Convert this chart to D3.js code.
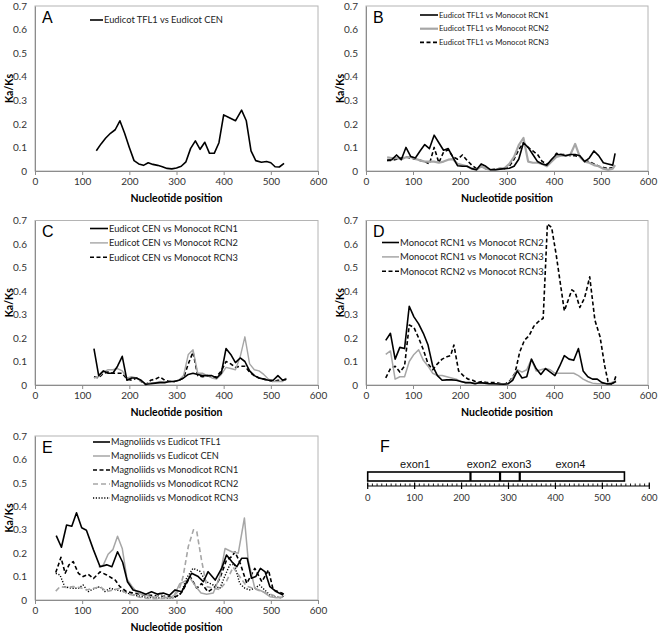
<!DOCTYPE html>
<html><head><meta charset="utf-8">
<script src="https://cdnjs.cloudflare.com/ajax/libs/d3/7.8.5/d3.min.js"></script>
<style>body{margin:0;background:#fff}svg{display:block}</style>
</head><body><svg id="c" width="660" height="637"></svg>
<script>
// ---------- DATA ----------
const xTicks = [0,100,200,300,400,500,600];
const yTicks = [0,0.1,0.2,0.3,0.4,0.5,0.6,0.7];

// Panel A
const A_x = [130,140,150,160,170,180,190,200,210,220,230,240,250,260,270,280,290,300,310,320,330,340,350,360,370,380,390,400,410,425,438,448,458,468,480,491,500,509,518,528];
const A_tfl1_cen = [0.086,0.115,0.14,0.16,0.175,0.213,0.16,0.10,0.044,0.03,0.024,0.035,0.028,0.024,0.018,0.011,0.009,0.013,0.02,0.039,0.096,0.128,0.092,0.122,0.075,0.075,0.12,0.238,0.228,0.213,0.258,0.213,0.085,0.044,0.037,0.04,0.035,0.018,0.017,0.032];

// Panel B
const B_x = [45,55,65,75,85,95,105,115,125,135,145,155,165,175,185,195,205,215,225,235,245,255,265,275,285,295,305,315,325,335,345,355,365,375,385,395,405,415,425,435,445,455,465,475,485,495,505,515,525,530];
const B_tfl1_rcn1 = [0.045,0.048,0.068,0.048,0.1,0.062,0.055,0.085,0.112,0.095,0.152,0.12,0.088,0.095,0.058,0.022,0.02,0.02,0.01,0.005,0.03,0.02,0.005,0.005,0.008,0.01,0.012,0.02,0.05,0.12,0.1,0.07,0.04,0.03,0.025,0.05,0.07,0.07,0.065,0.07,0.07,0.065,0.04,0.055,0.085,0.065,0.035,0.03,0.025,0.075];
const B_tfl1_rcn2 = [0.058,0.055,0.055,0.05,0.058,0.06,0.052,0.045,0.04,0.04,0.04,0.035,0.04,0.048,0.05,0.03,0.025,0.02,0.01,0.005,0.02,0.01,0.005,0.005,0.01,0.012,0.03,0.06,0.11,0.14,0.04,0.035,0.035,0.03,0.02,0.04,0.06,0.065,0.065,0.07,0.115,0.06,0.04,0.035,0.025,0.02,0.01,0.005,0.01,0.025];
const B_tfl1_rcn3 = [0.045,0.045,0.05,0.055,0.06,0.055,0.05,0.045,0.04,0.03,0.1,0.035,0.08,0.09,0.06,0.05,0.068,0.045,0.025,0.01,0.02,0.01,0.005,0.008,0.01,0.01,0.02,0.05,0.09,0.12,0.1,0.085,0.07,0.04,0.03,0.04,0.075,0.07,0.07,0.065,0.065,0.06,0.045,0.04,0.03,0.02,0.015,0.01,0.015,0.02];

// Panel C
const C_x = [125,135,145,155,165,175,185,195,205,215,225,235,245,255,265,275,285,295,305,315,325,335,345,355,365,375,385,395,405,415,425,435,445,455,465,475,485,495,505,515,525,533];
const C_cen_rcn1 = [0.155,0.04,0.06,0.05,0.05,0.08,0.122,0.02,0.03,0.03,0.02,0.003,0.005,0.008,0.01,0.01,0.015,0.015,0.02,0.03,0.045,0.05,0.045,0.04,0.04,0.04,0.03,0.05,0.155,0.13,0.095,0.115,0.1,0.06,0.04,0.03,0.025,0.02,0.02,0.04,0.02,0.025];
const C_cen_rcn2 = [0.03,0.035,0.055,0.065,0.065,0.07,0.06,0.03,0.035,0.03,0.015,0.005,0.01,0.01,0.015,0.012,0.015,0.015,0.02,0.04,0.13,0.15,0.05,0.05,0.04,0.03,0.025,0.045,0.075,0.07,0.065,0.12,0.205,0.09,0.065,0.06,0.045,0.025,0.015,0.015,0.015,0.03];
const C_cen_rcn3 = [0.035,0.03,0.05,0.055,0.05,0.05,0.05,0.025,0.02,0.03,0.015,0.002,0.02,0.025,0.035,0.02,0.015,0.015,0.02,0.03,0.09,0.14,0.04,0.035,0.04,0.035,0.035,0.06,0.1,0.09,0.075,0.08,0.08,0.055,0.04,0.03,0.025,0.02,0.015,0.02,0.02,0.025];

// Panel D
const D_x = [42,52,62,72,82,92,102,112,122,132,142,152,162,172,182,192,202,212,222,232,242,252,262,272,282,292,302,312,322,332,342,352,362,372,382,392,402,412,422,432,442,452,462,472,482,492,502,512,522,532];
const D_rcn1_rcn2 = [0.19,0.22,0.11,0.16,0.155,0.335,0.29,0.26,0.22,0.17,0.08,0.04,0.02,0.022,0.022,0.02,0.015,0.01,0.01,0.005,0.01,0.008,0.006,0.005,0.004,0.003,0.005,0.02,0.06,0.03,0.035,0.11,0.07,0.045,0.07,0.055,0.04,0.08,0.125,0.11,0.105,0.155,0.06,0.035,0.025,0.025,0.01,0.005,0.005,0.015];
const D_rcn1_rcn3 = [0.13,0.145,0.025,0.035,0.035,0.1,0.13,0.15,0.105,0.08,0.05,0.04,0.04,0.035,0.03,0.025,0.015,0.01,0.01,0.009,0.008,0.007,0.005,0.005,0.005,0.005,0.005,0.03,0.065,0.055,0.065,0.11,0.06,0.065,0.07,0.065,0.05,0.05,0.05,0.05,0.05,0.04,0.025,0.015,0.008,0.005,0.005,0.005,0.01,0.02];
const D2_x = [42,52,62,72,82,92,102,112,122,132,142,152,162,172,180,187,197,207,217,227,237,247,257,267,277,287,297,307,317,327,337,347,357,367,377,386,395,405,422,438,445,455,465,476,487,498,508,515,522,527,532];
const D_rcn2_rcn3 = [0.03,0.07,0.08,0.055,0.08,0.255,0.245,0.2,0.15,0.09,0.065,0.09,0.11,0.12,0.125,0.17,0.06,0.04,0.025,0.02,0.01,0.015,0.01,0.01,0.01,0.005,0.005,0.02,0.05,0.14,0.19,0.21,0.25,0.27,0.284,0.685,0.67,0.55,0.315,0.405,0.395,0.33,0.37,0.46,0.276,0.205,0.08,0.014,0.005,0.01,0.04];

// Panel E
const E_x = [45,56,67,78,88,99,109,124,138,152,163,175,186,196,208,222,235,247,260,272,285,297,311,322,332,346,357,367,382,396,406,417,428,438,450,459,468,478,488,498,512,526];
const E_mag_tfl1 = [0.275,0.225,0.32,0.315,0.372,0.308,0.298,0.214,0.142,0.15,0.142,0.206,0.16,0.078,0.043,0.035,0.025,0.035,0.025,0.03,0.02,0.043,0.035,0.078,0.114,0.1,0.078,0.121,0.085,0.136,0.192,0.164,0.142,0.178,0.178,0.093,0.1,0.135,0.12,0.057,0.035,0.021];
const E2_x = [135,145,155,165,175,185,195,205,215,225,235,245,255,265,275,285,295,307,318,329,340,352,364,378,392,403,417,431,444,452,466,484,498,512,526];
const E_mag_cen = [0.14,0.15,0.195,0.215,0.272,0.22,0.09,0.06,0.035,0.025,0.02,0.015,0.012,0.03,0.012,0.01,0.02,0.07,0.08,0.093,0.06,0.03,0.025,0.03,0.1,0.22,0.206,0.2,0.35,0.17,0.05,0.035,0.014,0.01,0.012];
const E3_x = [44,55,64,72,81,92,102,113,124,138,152,170,180,194,208,222,236,250,264,278,292,306,314,329,343,353,367,382,392,406,417,424,435,449,466,481,495,505,523,532];
const E_mag_rcn1 = [0.117,0.182,0.114,0.15,0.164,0.114,0.1,0.11,0.092,0.12,0.107,0.085,0.057,0.036,0.03,0.025,0.02,0.02,0.018,0.015,0.012,0.02,0.043,0.1,0.05,0.07,0.035,0.057,0.093,0.17,0.185,0.205,0.157,0.071,0.135,0.078,0.128,0.043,0.03,0.02];
const E4_x = [44,53,67,81,95,109,124,138,152,166,180,194,208,222,236,250,264,278,292,305,314,325,336,343,353,364,378,392,406,420,434,448,462,476,490,505,520,530];
const E_mag_rcn2 = [0.038,0.057,0.054,0.057,0.053,0.043,0.05,0.057,0.036,0.043,0.05,0.028,0.02,0.012,0.008,0.006,0.006,0.008,0.01,0.04,0.1,0.228,0.3,0.292,0.171,0.057,0.05,0.045,0.08,0.14,0.1,0.06,0.05,0.04,0.03,0.02,0.01,0.015];
const E5_x = [44,53,63,77,92,102,113,127,138,148,159,173,187,198,212,226,240,254,268,282,296,310,321,335,349,363,378,392,402,413,423,434,445,455,466,476,487,498,508,520,530];
const E_mag_rcn3 = [0.114,0.107,0.057,0.05,0.05,0.064,0.036,0.05,0.057,0.036,0.05,0.043,0.036,0.028,0.02,0.015,0.01,0.01,0.008,0.008,0.01,0.03,0.092,0.135,0.124,0.078,0.064,0.05,0.1,0.15,0.152,0.071,0.05,0.043,0.05,0.064,0.043,0.021,0.014,0.01,0.02];

// Panel F (gene structure)
const F_exonBounds = [0,219,282,324,547];
const F_exonLabels = ["exon1","exon2","exon3","exon4"];
const F_labelPos = [101,243,317,432];
const F_ticks = [0,100,200,300,400,500,600];

// ---------- DRAWING ----------
const svg = d3.select("#c");
const FONT = "Lato, 'Open Sans', sans-serif";
const ARIAL = "'Liberation Sans', Arial, sans-serif";
const S = {
  black:  {stroke:"#000", w:1.6, dash:null},
  gray:   {stroke:"#a6a6a6", w:1.8, dash:null},
  dash:   {stroke:"#000", w:1.6, dash:"4,2.5"},
  gdash:  {stroke:"#a6a6a6", w:1.6, dash:"5,3"},
  dot:    {stroke:"#000", w:1.4, dash:"1.2,1.6"}
};

const panels = [
  {label:"A", box:[35,318,6,171], legend:{x:90,y:20,lw:13,step:14,tw:119},
   series:[{name:"Eudicot TFL1 vs Eudicot CEN", x:A_x, y:A_tfl1_cen, s:"black"}]},
  {label:"B", box:[366,648,6,171], legend:{x:420,y:15,lw:18,step:13.7,tw:110},
   series:[{name:"Eudicot TFL1 vs Monocot RCN1", x:B_x, y:B_tfl1_rcn1, s:"black"},
           {name:"Eudicot TFL1 vs Monocot RCN2", x:B_x, y:B_tfl1_rcn2, s:"gray", w:2.2},
           {name:"Eudicot TFL1 vs Monocot RCN3", x:B_x, y:B_tfl1_rcn3, s:"dash"}]},
  {label:"C", box:[35,318,220.5,385], legend:{x:90,y:228.5,lw:18,step:14.4,tw:129},
   series:[{name:"Eudicot CEN vs Monocot RCN1", x:C_x, y:C_cen_rcn1, s:"black"},
           {name:"Eudicot CEN vs Monocot RCN2", x:C_x, y:C_cen_rcn2, s:"gray", w:1.4},
           {name:"Eudicot CEN vs Monocot RCN3", x:C_x, y:C_cen_rcn3, s:"dash"}]},
  {label:"D", box:[366,648,220.5,385], legend:{x:382,y:242.5,lw:17,step:14.4,tw:144},
   series:[{name:"Monocot RCN1 vs Monocot RCN2", x:D_x, y:D_rcn1_rcn2, s:"black"},
           {name:"Monocot RCN1 vs Monocot RCN3", x:D_x, y:D_rcn1_rcn3, s:"gray", w:1.5},
           {name:"Monocot RCN2 vs Monocot RCN3", x:D2_x, y:D_rcn2_rcn3, s:"dash"}]},
  {label:"E", box:[35,318,436,600], legend:{x:93,y:442,lw:17,step:14,tw:110},
   series:[{name:"Magnoliids vs Eudicot TFL1", x:E_x, y:E_mag_tfl1, s:"black"},
           {name:"Magnoliids vs Eudicot CEN", x:E2_x, y:E_mag_cen, s:"gray", w:1.5},
           {name:"Magnoliids vs Monodicot RCN1", x:E3_x, y:E_mag_rcn1, s:"dash"},
           {name:"Magnoliids vs Monodicot RCN2", x:E4_x, y:E_mag_rcn2, s:"gdash"},
           {name:"Magnoliids vs Monodicot RCN3", x:E5_x, y:E_mag_rcn3, s:"dot"}]}
];

panels.forEach(p => {
  const [x0,x1,y0,y1] = p.box;
  const x = d3.scaleLinear().domain([0,600]).range([x0,x1]);
  const y = d3.scaleLinear().domain([0,0.7]).range([y1,y0]);
  const g = svg.append("g");
  g.append("rect").attr("x",x0).attr("y",y0).attr("width",x1-x0).attr("height",y1-y0)
    .attr("fill","none").attr("stroke","#b4b4b4").attr("stroke-width",1);
  const xa = g.append("g").attr("transform",`translate(0,${y1})`)
    .call(d3.axisBottom(x).tickValues(xTicks).tickSize(4).tickSizeOuter(0).tickPadding(3));
  xa.select(".domain").attr("stroke","#8c8c8c");
  xa.selectAll(".tick line").attr("stroke","#8c8c8c");
  xa.selectAll("text").attr("font-family",FONT).attr("font-size","10px").attr("fill","#333");
  const ya = g.append("g").attr("transform",`translate(${x0},0)`)
    .call(d3.axisLeft(y).tickValues(yTicks).tickFormat(d=> d===0?"0":d3.format(".1f")(d)).tickSize(0).tickPadding(8));
  ya.select(".domain").attr("stroke","#8c8c8c");
  ya.selectAll("text").attr("font-family",FONT).attr("font-size","10px").attr("fill","#333");
  g.append("text").attr("x",(x0+x1)/2).attr("y",y1+31).attr("text-anchor","middle")
    .attr("font-family",FONT).attr("font-weight","bold").attr("font-size","10.5px").text("Nucleotide position");
  g.append("text").attr("transform",`translate(${x0-22.5},${(y0+y1)/2}) rotate(-90)`).attr("text-anchor","middle")
    .attr("font-family",FONT).attr("font-weight","bold").attr("font-size","10.5px").text("Ka/Ks");
  g.append("text").attr("x",x0+7).attr("y",y0+16.5).attr("font-family",ARIAL).attr("font-size","16px").text(p.label);
  const line = d3.line().x(d=>x(d[0])).y(d=>y(d[1]));
  p.series.slice().reverse().forEach(s => {
    const st = S[s.s];
    const pts = s.x.map((v,i)=>[v,s.y[i]]);
    g.append("path").datum(pts).attr("d",line).attr("fill","none")
      .attr("stroke",st.stroke).attr("stroke-width",s.w||st.w)
      .attr("stroke-dasharray",st.dash).attr("stroke-linejoin","round");
  });
  // legend, font fitted to the reference width of its first entry
  const L = p.legend;
  const texts = [];
  p.series.forEach((s,i) => {
    const st = S[s.s];
    const ly = L.y + i*L.step;
    g.append("line").attr("x1",L.x).attr("x2",L.x+L.lw).attr("y1",ly).attr("y2",ly)
      .attr("stroke",st.stroke).attr("stroke-width",s.w||st.w).attr("stroke-dasharray",st.dash);
    texts.push(g.append("text").attr("x",L.x+L.lw+1).attr("y",ly).attr("dy","0.35em")
      .attr("font-family",FONT).attr("font-size","10px").attr("fill","#222").text(s.name));
  });
  const w0 = texts[0].node().getComputedTextLength();
  const fs = 10*L.tw/w0;
  texts.forEach(t=>t.attr("font-size",fs.toFixed(2)+"px"));
});

// Panel F
(function(){
  const fx = d3.scaleLinear().domain([0,600]).range([367.7,649.3]);
  const axisY = 486;
  const g = svg.append("g");
  g.append("text").attr("x",380).attr("y",451.5).attr("font-family",ARIAL).attr("font-size","16px").text("F");
  g.append("line").attr("x1",fx(0)).attr("x2",fx(600)).attr("y1",axisY).attr("y2",axisY).attr("stroke","#000").attr("stroke-width",1.2);
  const minor = d3.range(0,601,10);
  g.selectAll(".mn").data(minor).enter().append("line")
    .attr("x1",d=>fx(d)).attr("x2",d=>fx(d)).attr("y1",axisY).attr("y2",axisY-2.5)
    .attr("stroke","#000").attr("stroke-width",0.9);
  g.selectAll(".mj").data(F_ticks).enter().append("line")
    .attr("x1",d=>fx(d)).attr("x2",d=>fx(d)).attr("y1",axisY-3.5).attr("y2",axisY+3)
    .attr("stroke","#000").attr("stroke-width",1.2);
  g.selectAll(".tl").data(F_ticks).enter().append("text")
    .attr("x",d=>fx(d)).attr("y",axisY+15).attr("text-anchor","middle")
    .attr("font-family",FONT).attr("font-size","9.5px").attr("fill","#333").text(d=>d);
  const by0 = 472, by1 = 481;
  g.append("rect").attr("x",fx(F_exonBounds[0])).attr("y",by0)
    .attr("width",fx(F_exonBounds[4])-fx(F_exonBounds[0])).attr("height",by1-by0)
    .attr("fill","#fff").attr("stroke","#000").attr("stroke-width",1.6);
  g.selectAll(".dv").data(F_exonBounds.slice(1,4)).enter().append("line")
    .attr("x1",d=>fx(d)).attr("x2",d=>fx(d)).attr("y1",by0).attr("y2",by1)
    .attr("stroke","#000").attr("stroke-width",2.2);
  g.selectAll(".el").data(F_exonLabels).enter().append("text")
    .attr("x",(d,i)=>fx(F_labelPos[i])).attr("y",464).attr("dy","0.35em").attr("text-anchor","middle")
    .attr("font-family",ARIAL).attr("font-size","11px").attr("fill","#111").text(d=>d);
})();
</script></body></html>
